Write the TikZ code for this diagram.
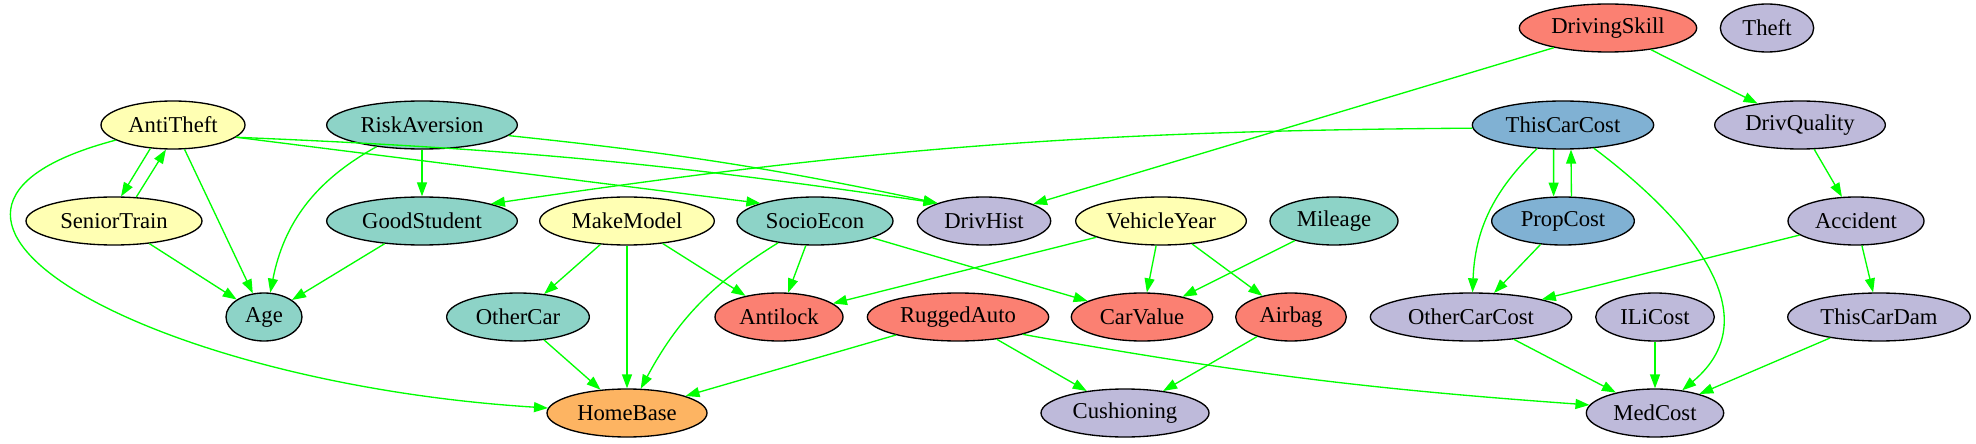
\documentclass[tikz,border=0pt]{standalone}
\usepackage{fontspec}
\setmainfont{Liberation Serif}
\usetikzlibrary{shapes.geometric,arrows.meta}
\definecolor{gvgreen}{HTML}{00FF00}
\definecolor{setyel}{HTML}{FFFFB3}
\definecolor{setteal}{HTML}{8DD3C7}
\definecolor{setlav}{HTML}{BEBADA}
\definecolor{setred}{HTML}{FB8072}
\definecolor{setblue}{HTML}{80B1D3}
\definecolor{setorg}{HTML}{FDB462}

\begin{document}
\begin{tikzpicture}[x=0.75pt,y=0.75pt,
    bnode/.style={ellipse,draw,line width=1pt,inner sep=0pt,minimum height=36pt,font=\fontsize{17}{20}\selectfont},
    link/.style={draw=gvgreen,line width=1pt,-{Triangle[length=10.5pt,width=7.5pt]}}]
    \useasboundingbox (0,0) rectangle (1976,443);
    % top rank
    \node[bnode,fill=setred,minimum width=133pt] (DrivingSkill) at (1608,415) {DrivingSkill};
    \node[bnode,fill=setlav,minimum width=70pt] (Theft) at (1767,415) {Theft};
    \node[bnode,fill=setyel,minimum width=108pt] (AntiTheft) at (173,318) {AntiTheft};
    \node[bnode,fill=setteal,minimum width=143pt] (RiskAversion) at (422,318) {RiskAversion};
    \node[bnode,fill=setblue,minimum width=136pt] (ThisCarCost) at (1563,318) {ThisCarCost};
    \node[bnode,fill=setlav,minimum width=128pt] (DrivQuality) at (1800,318) {DrivQuality};
    % middle ranks
    \node[bnode,fill=setyel,minimum width=132pt] (SeniorTrain) at (114,222) {SeniorTrain};
    \node[bnode,fill=setteal,minimum width=143pt] (GoodStudent) at (422,222) {GoodStudent};
    \node[bnode,fill=setyel,minimum width=131pt] (MakeModel) at (627,222) {MakeModel};
    \node[bnode,fill=setteal,minimum width=117pt] (SocioEcon) at (815,222) {SocioEcon};
    \node[bnode,fill=setlav,minimum width=100pt] (DrivHist) at (984,222) {DrivHist};
    \node[bnode,fill=setyel,minimum width=128pt] (VehicleYear) at (1161,222) {VehicleYear};
    \node[bnode,fill=setteal,minimum width=96pt] (Mileage) at (1334,222) {Mileage};
    \node[bnode,fill=setblue,minimum width=107pt] (PropCost) at (1563,222) {PropCost};
    \node[bnode,fill=setlav,minimum width=102pt] (Accident) at (1856,222) {Accident};
    \node[bnode,fill=setteal,minimum width=57pt] (Age) at (264,126) {Age};
    \node[bnode,fill=setteal,minimum width=107pt] (OtherCar) at (518,126) {OtherCar};
    \node[bnode,fill=setred,minimum width=96pt] (Antilock) at (779,126) {Antilock};
    \node[bnode,fill=setred,minimum width=136pt] (RuggedAuto) at (958,126) {RuggedAuto};
    \node[bnode,fill=setred,minimum width=106pt] (CarValue) at (1142,126) {CarValue};
    \node[bnode,fill=setred,minimum width=83pt] (Airbag) at (1291,126) {Airbag};
    \node[bnode,fill=setlav,minimum width=151pt] (OtherCarCost) at (1471,126) {OtherCarCost};
    \node[bnode,fill=setlav,minimum width=89pt] (ILiCost) at (1655,126) {ILiCost};
    \node[bnode,fill=setlav,minimum width=137pt] (ThisCarDam) at (1879,126) {ThisCarDam};
    % bottom rank
    \node[bnode,fill=setorg,minimum width=120pt] (HomeBase) at (627,30) {HomeBase};
    \node[bnode,fill=setlav,minimum width=126pt] (Cushioning) at (1125,30) {Cushioning};
    \node[bnode,fill=setlav,minimum width=103pt] (MedCost) at (1655,30) {MedCost};
    % arcs
    \draw[link] (AntiTheft.226) -- (SeniorTrain.74);
    \draw[link] (SeniorTrain.47) -- (AntiTheft.254);
    \draw[link] (AntiTheft) -- (Age);
    \draw[link] (AntiTheft) .. controls (-160,230) and (150,60) .. (HomeBase);
    \draw[link] (AntiTheft.-11) -- (SocioEcon.162);
    \draw[link] (AntiTheft.-11) to[bend left=3] (DrivHist.159);
    \draw[link] (RiskAversion) -- (GoodStudent);
    \draw[link] (RiskAversion) to[bend right=25] (Age);
    \draw[link] (RiskAversion.-7) to[bend left=3] (DrivHist.159);
    \draw[link] (SeniorTrain) -- (Age);
    \draw[link] (GoodStudent) -- (Age);
    \draw[link] (ThisCarCost.182) to[bend right=4] (GoodStudent.14);
    \draw[link] (DrivingSkill.200) -- (DrivHist.19);
    \draw[link] (DrivingSkill) -- (DrivQuality);
    \draw[link] (MakeModel) -- (OtherCar);
    \draw[link] (MakeModel) -- (HomeBase);
    \draw[link] (MakeModel) -- (Antilock);
    \draw[link] (SocioEcon) to[bend right=15] (HomeBase);
    \draw[link] (SocioEcon) -- (Antilock);
    \draw[link] (SocioEcon) -- (CarValue);
    \draw[link] (OtherCar) -- (HomeBase);
    \draw[link] (VehicleYear) -- (Antilock);
    \draw[link] (VehicleYear) -- (CarValue);
    \draw[link] (VehicleYear) -- (Airbag);
    \draw[link] (Mileage) -- (CarValue);
    \draw[link] (RuggedAuto) -- (HomeBase);
    \draw[link] (RuggedAuto) -- (Cushioning);
    \draw[link] (RuggedAuto.-15) to[bend right=3] (MedCost.173);
    \draw[link] (Airbag) -- (Cushioning);
    \draw[link] (ThisCarCost.249) -- (PropCost.111);
    \draw[link] (PropCost.71) -- (ThisCarCost.288);
    \draw[link] (ThisCarCost) to[bend right=22] (OtherCarCost);
    \draw[link] (ThisCarCost) .. controls (1680,230) and (1775,130) .. (MedCost);
    \draw[link] (PropCost) -- (OtherCarCost);
    \draw[link] (DrivQuality) -- (Accident);
    \draw[link] (Accident) -- (OtherCarCost);
    \draw[link] (Accident) -- (ThisCarDam);
    \draw[link] (OtherCarCost) -- (MedCost);
    \draw[link] (ILiCost) -- (MedCost);
    \draw[link] (ThisCarDam) -- (MedCost);
\end{tikzpicture}
\end{document}
